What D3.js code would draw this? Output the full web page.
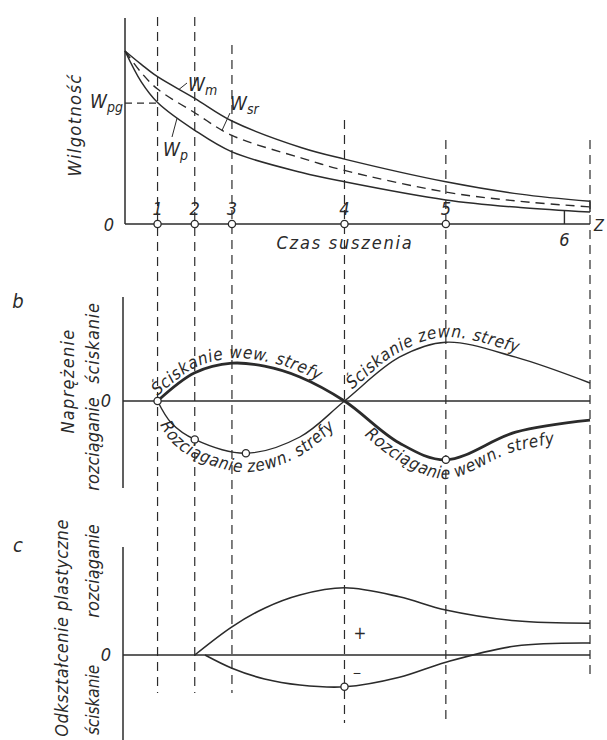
<!DOCTYPE html>
<html>
<head>
<meta charset="utf-8">
<script src="https://cdn.jsdelivr.net/npm/d3@7"></script>
<style>
  body { margin: 0; background: #fff; }
  svg text {
    font-family: "DejaVu Sans Condensed", "DejaVu Sans", sans-serif;
    font-stretch: condensed;
    font-style: italic;
    fill: #2a2a2a;
  }
</style>
</head>
<body>
<svg id="chart" width="607" height="740"></svg>
<script>
// --- data -------------------------------------------------------------
// time axis (arbitrary units 0..10), moisture in %, stress/strain relative

// panel a: moisture curves
const timeA = [0, 0.35, 0.7, 1.5, 2.3, 3.8, 4.72, 6.9, 8.5, 10];
const wM    = [84, 77.5, 71.5, 61, 50, 37, 31.5, 20.5, 14.5, 11];
const wSr   = [84, 73.5, 65.5, 54, 43, 32, 26, 15.5, 11, 8.3];
const wP    = [84, 69, 59, 45.5, 35, 25, 20.5, 11.7, 8, 5.8];
const wPg = 58.7;

// marked moments 1..5 and the end of drying
const markT = [0.7, 1.5, 2.3, 4.72, 6.9, 10];
const markLabels = ["1", "2", "3", "4", "5", ""];
const mark6 = { t: 9.45, w: 6.4 };

// panel b: stresses
const timeInner = [0.7, 1.5, 2.3, 3.0, 3.76, 4.72, 5.9, 6.9, 8.4, 10];
const stressInner = [0, 0.47, 0.63, 0.58, 0.40, 0, -0.7, -0.98, -0.52, -0.32];
const timeOuter = [0.7, 1.0, 1.5, 2.6, 3.76, 4.72, 5.9, 6.9, 8.4, 10];
const stressOuter = [0, -0.37, -0.64, -0.87, -0.6, 0, 0.73, 0.98, 0.73, 0.30];

// panel c: plastic strain
const timeTens = [1.5, 2.3, 3.0, 3.76, 4.72, 5.9, 6.9, 8.4, 10];
const strainTens = [0, 0.47, 0.78, 1.0, 1.12, 0.97, 0.75, 0.57, 0.53];
const timeComp = [1.72, 2.3, 3.0, 3.76, 4.72, 5.9, 6.9, 8.4, 10];
const strainComp = [0, -0.22, -0.4, -0.5, -0.53, -0.37, -0.12, 0.15, 0.2];

// --- setup ------------------------------------------------------------
const svg = d3.select("#chart");
const ink = "#2b2b2b";

const x = d3.scaleLinear().domain([0, 10]).range([125, 590]);
const yA = d3.scaleLinear().domain([0, 100]).range([224, 18]);
const yB = d3.scaleLinear().domain([-1, 1]).range([461, 341]);
const yC = d3.scaleLinear().domain([-1, 1]).range([715, 595]);

const zip = (ts, vs) => ts.map((t, i) => ({ t, v: vs[i] }));
const lineFor = (yS, dy = 0) => d3.line()
  .x(d => x(d.t))
  .y(d => yS(d.v) + dy)
  .curve(d3.curveCatmullRom.alpha(0.5));

function vline(px, y0, y1, dashed, w = 1.2) {
  svg.append("line")
    .attr("x1", px).attr("x2", px).attr("y1", y0).attr("y2", y1)
    .attr("stroke", ink).attr("stroke-width", w)
    .attr("stroke-dasharray", dashed ? "9,6" : null);
}
function hline(y, x0, x1, dashed, w = 1.3) {
  svg.append("line")
    .attr("x1", x0).attr("x2", x1).attr("y1", y).attr("y2", y)
    .attr("stroke", ink).attr("stroke-width", w)
    .attr("stroke-dasharray", dashed ? "7,5" : null);
}
function curve(data, yS, w, dashed) {
  return svg.append("path")
    .attr("d", lineFor(yS)(data))
    .attr("fill", "none").attr("stroke", ink)
    .attr("stroke-width", w)
    .attr("stroke-dasharray", dashed ? "9,6" : null);
}
function ring(px, py) {
  svg.append("circle").attr("cx", px).attr("cy", py).attr("r", 3.6)
    .attr("fill", "#fff").attr("stroke", ink).attr("stroke-width", 1.3);
}
function text(px, py, str, size, anchor = "middle", rot = 0, ls = 0) {
  return svg.append("text")
    .attr("transform", `translate(${px},${py}) rotate(${rot})`)
    .attr("text-anchor", anchor)
    .attr("font-size", size)
    .attr("letter-spacing", ls)
    .text(str);
}
// y of a drawn path at a given screen x
function yAtX(node, px) {
  const L = node.getTotalLength();
  for (let l = 0; l <= L; l += 0.5) {
    const p = node.getPointAtLength(l);
    if (p.x >= px) return p.y;
  }
  return node.getPointAtLength(L).y;
}
// text that follows a curve, shifted by dy
let labelId = 0;
function curveLabel(data, yS, dy, x0, str, size = 17, ls = 0.6) {
  const id = "lbl" + (labelId++);
  const p = svg.append("path").attr("id", id)
    .attr("d", lineFor(yS, dy)(data))
    .attr("fill", "none").attr("stroke", "none");
  const node = p.node();
  const L = node.getTotalLength();
  let start = 0;
  for (let l = 0; l <= L; l += 0.5) {
    if (node.getPointAtLength(l).x >= x0) { start = l; break; }
  }
  svg.append("text").attr("font-size", size).attr("letter-spacing", ls)
    .append("textPath").attr("href", "#" + id)
    .attr("startOffset", start).text(str);
}

// --- vertical dashed lines through all panels ---------------------------
const markTop = [17, 17, 45, 120, 140, 140];
const markBottom = [693, 693, 693, 723, 723, 675];
markT.forEach((t, i) => vline(x(t), markTop[i], markBottom[i], true));

// --- panel a: moisture ---------------------------------------------------
vline(x(0), yA(100), yA(0), false, 1.5);
hline(yA(0), x(0), x(10), false, 1.5);
hline(yA(wPg), x(0), x(markT[0]), true, 1.1);

const pM = curve(zip(timeA, wM), yA, 1.5, false);
const pSr = curve(zip(timeA, wSr), yA, 1.4, true);
const pP = curve(zip(timeA, wP), yA, 1.5, false);

// end cap and mark 6
vline(x(10), yA(wM[wM.length - 1]), yA(wP[wP.length - 1]), false, 1.4);
vline(x(mark6.t), yA(mark6.w), yA(0), false, 1.4);

markT.slice(0, 5).forEach((t, i) => {
  ring(x(t), yA(0));
  text(x(t), yA(0) - 9, markLabels[i], 18);
});
text(x(mark6.t), yA(0) + 22, "6", 18);
text(x(0) - 16, yA(0) + 7, "0", 18);
text(x(10) + 4, yA(0) + 7, "Z", 16, "start");
text(345, 249, "Czas suszenia", 18, "middle", 0, 1.8);
text(81, 125, "Wilgotność", 18, "middle", -90, 1.4);

// W labels with subscripts
function wLabel(px, py, sub) {
  const t = svg.append("text").attr("x", px).attr("y", py).attr("font-size", 19);
  t.append("tspan").text("W");
  t.append("tspan").attr("font-size", 14).attr("dy", 4).text(sub);
}
wLabel(90, 108, "pg");
wLabel(188, 91, "m");
wLabel(230, 110, "sr");
wLabel(163, 156, "p");

// leader lines from labels to curves
function leader(node, cx, lx, ly) {
  svg.append("line").attr("x1", lx).attr("y1", ly)
    .attr("x2", cx).attr("y2", yAtX(node, cx))
    .attr("stroke", ink).attr("stroke-width", 1);
}
leader(pM.node(), 179, 187, 83);
leader(pSr.node(), 222, 230, 113);
leader(pP.node(), 177, 172, 137);

// --- panel b: stresses ---------------------------------------------------
text(18, 308, "b", 20);
vline(123, 297, 488, false, 1.5);
hline(yB(0), 123, x(10), false, 1.3);
text(106, yB(0) + 6, "0", 18);
text(74, 381, "Naprężenie", 18, "middle", -90, 1.3);
text(99, 343, "ściskanie", 18, "middle", -90, 0.8);
text(99, 444, "rozciąganie", 18, "middle", -90, 0);

const inner = zip(timeInner, stressInner);
const outer = zip(timeOuter, stressOuter);
curve(outer, yB, 1.4, false);
curve(inner, yB, 2.8, false);

ring(x(0.7), yB(0));
ring(x(1.5), yB(stressOuter[2]));
ring(x(2.6), yB(stressOuter[3]));
ring(x(6.9), yB(stressInner[7]));

curveLabel(inner, yB, -5, 152, "Ściskanie wew. strefy");
curveLabel(outer, yB, 19, 160, "Rozciąganie zewn. strefy");
curveLabel(outer, yB, -5, 352, "Ściskanie zewn. strefy");
curveLabel(inner, yB, 19, 364, "Rozciąganie wewn. strefy");

// --- panel c: plastic strain ---------------------------------------------
text(18, 552, "c", 20);
vline(123, 547, 740, false, 1.5);
hline(yC(0), 123, x(10), false, 1.3);
text(106, yC(0) + 6, "0", 18);
text(68, 628, "Odkształcenie plastyczne", 18, "middle", -90, 0.5);
text(99, 571, "rozciąganie", 18, "middle", -90, 0);
text(99, 700, "ściskanie", 17, "middle", -90, 0);

curve(zip(timeTens, strainTens), yC, 1.6, false);
curve(zip(timeComp, strainComp), yC, 1.6, false);
ring(x(4.72), yC(strainComp[4]));

text(x(4.72) + 9, yC(0) - 16, "+", 17, "start").style("font-style", "normal");
text(x(4.72) + 8, yC(0) + 22, "−", 12, "start").style("font-style", "normal");
</script>
</body>
</html>
